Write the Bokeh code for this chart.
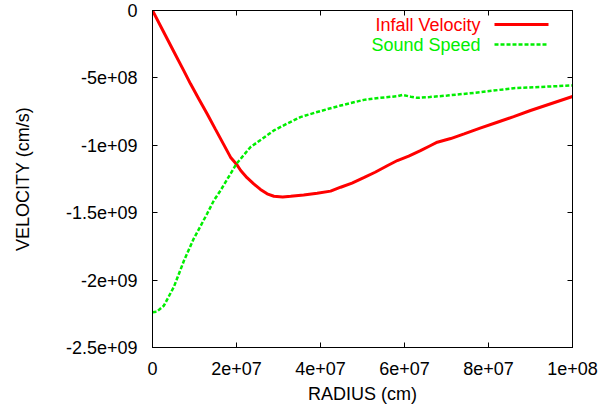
from bokeh.plotting import figure
from bokeh.models import Range1d, FixedTicker, LinearAxis, Label, Arrow, CustomLabelingPolicy
from bokeh.embed import file_html
from bokeh.resources import INLINE

# ---- data (radius in cm, velocity in cm/s) ----
infall_r = [0.0, 0.25e7, 0.5e7, 0.75e7, 0.905e7, 1.1e7, 1.3e7, 1.5e7, 1.7e7, 1.857e7,
            2.0e7, 2.1e7, 2.25e7, 2.41e7, 2.57e7, 2.73e7, 2.89e7, 3.1e7, 3.29e7, 3.6e7,
            3.92e7, 4.24e7, 4.48e7, 4.75e7, 5.03e7, 5.3e7, 5.6e7, 5.83e7, 6.1e7, 6.38e7,
            6.6e7, 6.78e7, 7.1e7, 7.42e7, 7.8e7, 8.21e7, 8.6e7, 9.0e7, 9.5e7, 10.0e7]
infall_v = [0.0, -0.15e9, -0.30e9, -0.45e9, -0.544e9, -0.655e9, -0.766e9, -0.882e9, -0.997e9, -1.088e9,
            -1.14e9, -1.187e9, -1.24e9, -1.286e9, -1.327e9, -1.36e9, -1.378e9, -1.383e9, -1.378e9, -1.368e9,
            -1.355e9, -1.34e9, -1.311e9, -1.28e9, -1.24e9, -1.20e9, -1.15e9, -1.113e9, -1.08e9, -1.04e9,
            -1.005e9, -0.977e9, -0.95e9, -0.915e9, -0.873e9, -0.829e9, -0.787e9, -0.742e9, -0.69e9, -0.638e9]

sound_r = [0.0, 0.1e7, 0.27e7, 0.51e7, 0.75e7, 0.98e7, 1.3e7, 1.46e7, 1.62e7, 2.0e7,
           2.33e7, 2.89e7, 3.2e7, 3.52e7, 3.9e7, 4.24e7, 4.48e7, 5.03e7, 5.4e7, 5.83e7,
           5.95e7, 6.15e7, 6.3e7, 6.6e7, 7.02e7, 7.81e7, 8.6e7, 10.0e7]
sound_v = [-2.238e9, -2.235e9, -2.19e9, -2.05e9, -1.855e9, -1.694e9, -1.508e9, -1.41e9, -1.335e9, -1.137e9,
           -1.014e9, -0.89e9, -0.84e9, -0.791e9, -0.755e9, -0.725e9, -0.705e9, -0.663e9, -0.648e9, -0.636e9,
           -0.626e9, -0.64e9, -0.648e9, -0.642e9, -0.631e9, -0.606e9, -0.576e9, -0.556e9]

x_ticks = [0, 2e7, 4e7, 6e7, 8e7, 1e8]
x_tick_labels = ["0", "2e+07", "4e+07", "6e+07", "8e+07", "1e+08"]
y_ticks = [0, -5e8, -1e9, -1.5e9, -2e9, -2.5e9]
y_tick_labels = ["0", "-5e+08", "-1e+09", "-1.5e+09", "-2e+09", "-2.5e+09"]

series_names = ["Infall Velocity", "Sound Speed"]
RED = "#ff0000"
GREEN = "#00ee00"
FONT = "Liberation Sans"
FS = "18px"
GDASH = "4 2"

p = figure(width=600, height=411, output_backend="svg", toolbar_location=None,
           x_range=Range1d(0, 1e8), y_range=Range1d(-2.5e9, 0),
           min_border_left=152, min_border_right=28, min_border_top=10, min_border_bottom=64)
p.xgrid.visible = False
p.ygrid.visible = False
p.outline_line_color = "black"
p.outline_line_width = 1
p.background_fill_color = "white"
p.border_fill_color = "white"

p.line(infall_r, infall_v, line_color=RED, line_width=3)
p.line(sound_r, sound_v, line_color=GREEN, line_width=2.5, line_dash=GDASH)

def style(ax, labels, ticks, show_labels=True):
    ax.ticker = FixedTicker(ticks=ticks)
    ax.major_label_overrides = {t: l for t, l in zip(ticks, labels)}
    ax.major_tick_in = 5
    ax.major_tick_out = 0
    ax.minor_tick_in = 0
    ax.minor_tick_out = 0
    ax.axis_line_color = "black"
    ax.major_tick_line_color = "black"
    ax.major_label_text_font = FONT
    ax.major_label_text_font_size = FS if show_labels else "0px"
    ax.major_label_text_color = "black"
    ax.axis_label_text_font = FONT
    ax.axis_label_text_font_size = FS
    ax.axis_label_text_font_style = "normal"
    ax.axis_label_text_color = "black"
    if not show_labels:
        ax.major_label_standoff = 0
        ax.major_label_policy = CustomLabelingPolicy(
            code="return new indices.constructor(indices.size, 0)")

xa = p.xaxis[0]
ya = p.yaxis[0]
style(xa, x_tick_labels, x_ticks)
style(ya, y_tick_labels, y_ticks)
xa.axis_label = "RADIUS (cm)"
ya.axis_label = "VELOCITY (cm/s)"
xa.major_label_standoff = 14
xa.axis_label_standoff = 6
ya.major_label_standoff = 15
ya.axis_label_standoff = 30

top = LinearAxis()
style(top, x_tick_labels, x_ticks, show_labels=False)
p.add_layout(top, "above")
right = LinearAxis()
style(right, y_tick_labels, y_ticks, show_labels=False)
p.add_layout(right, "right")

# legend (gnuplot style: text then sample line), frame-relative screen units
for i, (name, col, dash, lw) in enumerate(zip(series_names, [RED, GREEN], ["solid", GDASH], [3, 2.5])):
    yy = 323 - 20 * i
    p.add_layout(Label(x=328, y=yy, x_units="screen", y_units="screen", text=name,
                       text_align="right", text_baseline="middle", text_color=col,
                       text_font=FONT, text_font_size=FS))
    p.add_layout(Arrow(x_start=342, y_start=yy, x_end=396, y_end=yy,
                       start_units="screen", end_units="screen", end=None,
                       line_color=col, line_width=lw, line_dash=dash))

open("out.html", "w").write(file_html(p, INLINE))
